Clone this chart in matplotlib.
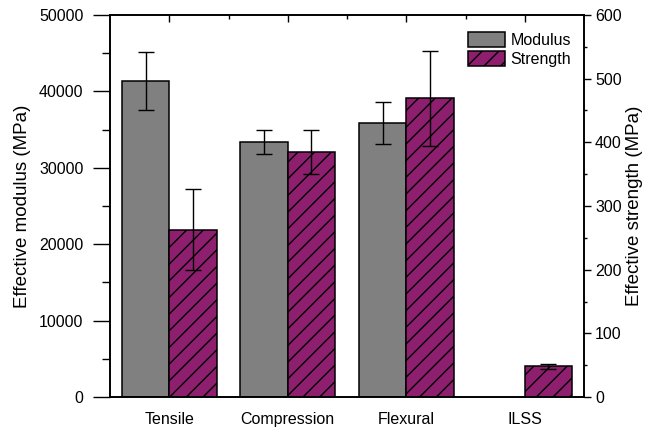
import matplotlib
matplotlib.use("Agg")
import matplotlib.pyplot as plt
import numpy as np
from matplotlib.ticker import MultipleLocator, FixedLocator

plt.rcParams['font.family'] = ['Liberation Sans', 'DejaVu Sans']
plt.rcParams['hatch.linewidth'] = 1.0

categories = ["Tensile", "Compression", "Flexural", "ILSS"]
modulus = [41300, 33400, 35900, np.nan]
modulus_err = [3800, 1550, 2750, np.nan]
strength = [263, 385, 469, 48]
strength_err = [63, 35, 75, 4]

gray = "#808080"
purple = "#8E1F6E"

fig = plt.figure(figsize=(6.48, 4.29), dpi=100)
ax = fig.add_axes([110/648, 1 - 397/429, (584-110)/648, (397-15)/429])
ax2 = ax.twinx()

x = np.arange(1, len(categories) + 1)
w = 0.4
err_kw = dict(elinewidth=1.0, capthick=1.0, ecolor="black")
b1 = ax.bar(x - w/2, modulus, w, yerr=modulus_err, color=gray, edgecolor="black",
            linewidth=1.1, capsize=5.5, error_kw=err_kw, label="Modulus", zorder=2)
b2 = ax2.bar(x + w/2, strength, w, yerr=strength_err, color=purple, edgecolor="black",
             linewidth=1.1, hatch="//", capsize=5.5, error_kw=err_kw, label="Strength", zorder=2)

ax.set_xlim(0.5, 4.5)
ax.set_ylim(0, 50000)
ax2.set_ylim(0, 600)

ax.set_xticks(x)
ax.set_xticklabels(categories, fontsize=11.5)
ax.xaxis.set_minor_locator(FixedLocator(x[:-1] + 0.5))
ax.tick_params(axis='x', which='both', direction='in', top=True, bottom=False, width=1)
ax.tick_params(axis='x', which='major', length=5, pad=11)
ax.tick_params(axis='x', which='minor', length=2.7)

ax.yaxis.set_major_locator(MultipleLocator(10000))
ax.yaxis.set_minor_locator(MultipleLocator(5000))
ax.tick_params(axis='y', which='major', direction='out', length=12, width=1, labelsize=11.5, pad=7)
ax.tick_params(axis='y', which='minor', direction='out', length=6, width=1)

ax2.yaxis.set_major_locator(MultipleLocator(100))
ax2.yaxis.set_minor_locator(MultipleLocator(50))
ax2.tick_params(axis='y', which='major', direction='out', length=5, width=1, labelsize=11.5, pad=3)
ax2.tick_params(axis='y', which='minor', direction='out', length=2.5, width=1)

for a in (ax, ax2):
    for s in a.spines.values():
        s.set_linewidth(1.2)

ax.set_ylabel("Effective modulus (MPa)", fontsize=13.5, labelpad=6)
ax2.set_ylabel("Effective strength (MPa)", fontsize=13.5, labelpad=3)

ax2.legend([b1, b2], ["Modulus", "Strength"], loc="upper left",
           bbox_to_anchor=((468-110)/474, (397-32)/382), fontsize=11.5, frameon=False,
           handlelength=2.3, handleheight=1.06, handletextpad=0.36, labelspacing=0.2,
           borderaxespad=0, borderpad=0)

fig.savefig("out.png", dpi=100)
